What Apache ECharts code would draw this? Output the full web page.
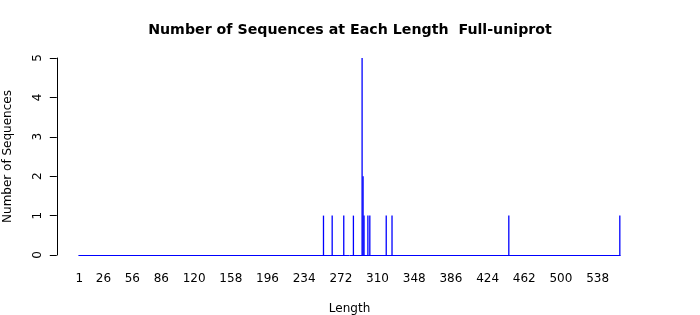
<!DOCTYPE html>
<html>
<head>
<meta charset="utf-8">
<script src="https://cdn.jsdelivr.net/npm/echarts@6/dist/echarts.min.js"></script>
<style>html,body{margin:0;padding:0;background:#fff;}#c{width:700px;height:315px;}</style>
</head>
<body>
<div id="c"></div>
<script>
// Data
var lengths = [254, 263, 275, 285, 294, 295, 296, 300, 302, 319, 325, 446, 561];
var counts  = [1,   1,   1,   1,   5,   2,   1,   1,   1,   1,   1,   1,   1];
var xTickLabels = [1, 26, 56, 86, 120, 158, 196, 234, 272, 310, 348, 386, 424, 462, 500, 538];
var yTicks = [0, 1, 2, 3, 4, 5];
var titleText = 'Number of Sequences at Each Length  Full-uniprot';

var FONT = 'DejaVu Sans';
var pairs = lengths.map(function (l, i) { return [l, counts[i]]; });

var chart = echarts.init(document.getElementById('c'), null, {renderer: 'canvas'});
chart.setOption({
  animation: false,
  backgroundColor: '#ffffff',
  title: {
    text: titleText,
    left: 'center',
    top: 18,
    textStyle: {fontFamily: FONT, fontSize: 14.2, fontWeight: 'bold', color: '#000'}
  },
  grid: {left: 78.8, top: 58, width: 541.5, height: 197, containLabel: false, outerBoundsMode: 'none'},
  xAxis: {
    type: 'value',
    min: 0.5,
    max: 561.5,
    name: 'Length',
    nameLocation: 'middle',
    nameGap: 48,
    nameTextStyle: {fontFamily: FONT, fontSize: 12, color: '#000'},
    axisLine: {show: true, lineStyle: {color: '#0000ff', width: 1}},
    axisTick: {show: false},
    splitLine: {show: false},
    axisLabel: {
      customValues: xTickLabels,
      margin: 18,
      fontFamily: FONT, fontSize: 12, color: '#000'
    }
  },
  yAxis: {
    type: 'value',
    min: 0,
    max: 5,
    interval: 1,
    offset: 22,
    name: 'Number of Sequences',
    nameLocation: 'middle',
    nameGap: 43,
    nameTextStyle: {fontFamily: FONT, fontSize: 12, color: '#000'},
    axisLine: {show: true, lineStyle: {color: '#000', width: 1}},
    axisTick: {show: true, length: 7, lineStyle: {color: '#000'}},
    splitLine: {show: false},
    axisLabel: {
      customValues: yTicks,
      rotate: 90,
      margin: 13,
      fontFamily: FONT, fontSize: 12, color: '#000'
    }
  },
  series: [{
    type: 'bar',
    data: pairs,
    barWidth: 1.3,
    itemStyle: {color: '#0000ff'}
  }]
});
</script>
</body>
</html>
